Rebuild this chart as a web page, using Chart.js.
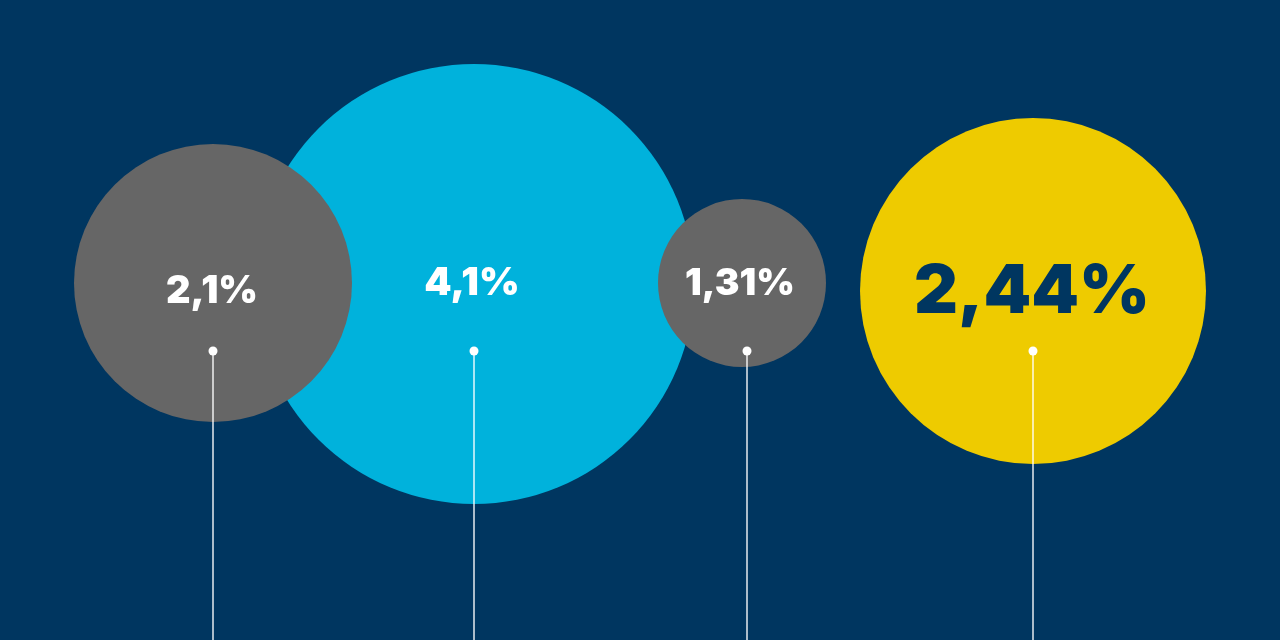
<!DOCTYPE html>
<html>
<head>
<meta charset="utf-8">
<script src="https://cdn.jsdelivr.net/npm/chart.js@4"></script>
<style>
html,body{margin:0;padding:0;background:#003660;overflow:hidden}
#wrap{width:1280px;height:640px;position:relative}
</style>
</head>
<body>
<div id="wrap"><canvas id="c" width="1280" height="640"></canvas></div>
<script>
// Data (drawing order: later items on top)
const labels = ["4,1%", "2,1%", "1,31%", "2,44%"];
const values = [4.1, 2.1, 1.31, 2.44];
const posX = [474, 213, 742, 1033];
const posY = [284, 283, 283, 291];
const radii = [220, 139, 84, 173];
const colors = ["#00b2dc", "#666666", "#666666", "#eecb00"];
const textColors = ["#ffffff", "#ffffff", "#ffffff", "#003660"];
const fontSizes = [39, 38, 37, 68];
const textBaseY = [295, 303, 295, 313];
const textX = [472, 212, 740, 1032];
const stemX = [474, 213, 747, 1033];
const stemTopY = 351;

const overlay = {
  id: 'overlay',
  afterDatasetsDraw(chart) {
    const {ctx, scales: {x, y}} = chart;
    ctx.save();
    // stems and dots
    stemX.forEach((sx) => {
      const px = x.getPixelForValue(sx);
      const py = y.getPixelForValue(stemTopY);
      const pb = y.getPixelForValue(640);
      ctx.strokeStyle = 'rgba(255,255,255,0.9)';
      ctx.lineWidth = 1.5;
      ctx.beginPath();
      ctx.moveTo(px, py);
      ctx.lineTo(px, pb);
      ctx.stroke();
      ctx.fillStyle = '#ffffff';
      ctx.beginPath();
      ctx.arc(px, py, 4.5, 0, Math.PI * 2);
      ctx.fill();
    });
    // labels
    labels.forEach((t, i) => {
      ctx.font = `900 ${fontSizes[i]}px Inter, "Open Sans", sans-serif`;
      ctx.fillStyle = textColors[i];
      ctx.textAlign = 'center';
      ctx.textBaseline = 'alphabetic';
      ctx.fillText(t, x.getPixelForValue(textX[i]), y.getPixelForValue(textBaseY[i]));
    });
    ctx.restore();
  }
};

new Chart(document.getElementById('c'), {
  type: 'bubble',
  data: {
    labels: labels,
    datasets: [{
      data: values.map((v, i) => ({x: posX[i], y: posY[i], r: radii[i], v: v})),
      backgroundColor: colors,
      borderWidth: 0,
      hoverBorderWidth: 0,
      hoverRadius: 0,
      clip: false
    }]
  },
  options: {
    responsive: false,
    animation: false,
    events: [],
    layout: {padding: 0, autoPadding: false},
    plugins: {legend: {display: false}, tooltip: {enabled: false}},
    scales: {
      x: {type: 'linear', min: 0, max: 1280, display: false},
      y: {type: 'linear', min: 0, max: 640, reverse: true, display: false}
    }
  },
  plugins: [overlay]
});
</script>
</body>
</html>
